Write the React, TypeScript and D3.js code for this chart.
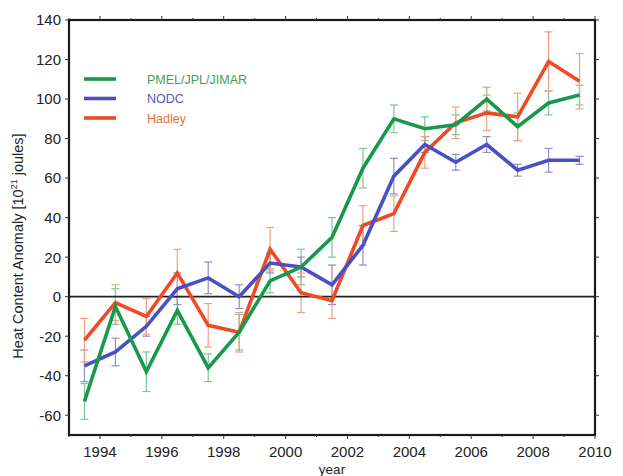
import React from "react";
import * as d3 from "d3";

// Mid-year sample times
const years = [1993.5, 1994.5, 1995.5, 1996.5, 1997.5, 1998.5, 1999.5, 2000.5, 2001.5, 2002.5, 2003.5, 2004.5, 2005.5, 2006.5, 2007.5, 2008.5, 2009.5];

const pmelValues = [-53, -5, -38, -7, -36, -18, 8, 15, 30, 65, 90, 85, 87, 100, 86, 98, 102];
const pmelErrors = [9, 9, 10, 7, 7, 9, 6, 9, 10, 10, 7, 6, 5, 6, 7, 6, 5];

const nodcValues = [-35, -28, -15, 4, 9.5, 0, 17, 15, 6, 26, 61, 77, 68, 77, 64, 69, 69];
const nodcErrors = [8, 7, 5, 8, 8, 6, 5, 5, 10, 10, 9, 4, 4, 4, 3, 6, 2];

const hadleyValues = [-22, -3, -10, 12, -14.5, -18, 24, 2, -2, 36, 42, 73, 88, 93, 91, 119, 109];
const hadleyErrors = [11, 9, 9, 12, 11, 10, 11, 10, 9, 10, 9, 8, 8, 9, 12, 15, 14];

const seriesNames = ["PMEL/JPL/JIMAR", "NODC", "Hadley"];
const yTicks = [-60, -40, -20, 0, 20, 40, 60, 80, 100, 120, 140];
const xTicks = [1994, 1996, 1998, 2000, 2002, 2004, 2006, 2008, 2010];

const W = 623;
const H = 476;
const M = { left: 69, right: 595, top: 20, bottom: 435 };

export default function App() {
  const x = d3.scaleLinear().domain([1993, 2010]).range([M.left, M.right]);
  const y = d3.scaleLinear().domain([-70, 140]).range([M.bottom, M.top]);
  const line = d3
    .line<[number, number]>()
    .x((d) => x(d[0]))
    .y((d) => y(d[1]));

  const series = [
    { name: seriesNames[0], values: pmelValues, errors: pmelErrors, color: "#17984a", errColor: "#7cc79a", text: "#3aa25a" },
    { name: seriesNames[1], values: nodcValues, errors: nodcErrors, color: "#4a4fc4", errColor: "#8e8fc4", text: "#5656c0" },
    { name: seriesNames[2], values: hadleyValues, errors: hadleyErrors, color: "#ef4a23", errColor: "#f0a080", text: "#e8703a" },
  ];

  const font = "'Liberation Sans', Arial, sans-serif";
  const minorYears = d3.range(1993, 2011);
  const minorY = d3.range(-60, 141, 20);

  return (
    <svg width={W} height={H} style={{ position: "absolute", left: 0, top: 0, background: "#fff" }} fontFamily={font}>
      <rect x={0} y={0} width={W} height={H} fill="#fff" />

      {/* error bars */}
      {series.map((s) => (
        <g key={s.name + "-err"} stroke={s.errColor} strokeWidth={1.2}>
          {years.map((yr, i) => {
            const cx = x(yr);
            const y0 = y(s.values[i] - s.errors[i]);
            const y1 = y(s.values[i] + s.errors[i]);
            return (
              <g key={i}>
                <line x1={cx} x2={cx} y1={y0} y2={y1} />
                <line x1={cx - 4} x2={cx + 4} y1={y0} y2={y0} />
                <line x1={cx - 4} x2={cx + 4} y1={y1} y2={y1} />
              </g>
            );
          })}
        </g>
      ))}

      {/* zero line */}
      <line x1={M.left} x2={M.right} y1={y(0)} y2={y(0)} stroke="#222" strokeWidth={1.6} />

      {/* series lines, drawn back to front */}
      {[series[2], series[1], series[0]].map((s) => (
        <path
          key={s.name}
          d={line(years.map((yr, i) => [yr, s.values[i]] as [number, number])) || ""}
          fill="none"
          stroke={s.color}
          strokeWidth={3.6}
          strokeLinejoin="miter"
        />
      ))}

      {/* frame */}
      <rect x={M.left} y={M.top} width={M.right - M.left} height={M.bottom - M.top} fill="none" stroke="#1a1a1a" strokeWidth={2.2} />

      {/* x ticks: bottom and top */}
      {minorYears.map((yr) => (
        <g key={"xt" + yr} stroke="#333" strokeWidth={1}>
          <line x1={x(yr)} x2={x(yr)} y1={M.bottom} y2={M.bottom + (yr % 2 === 0 ? 4 : 2)} />
          <line x1={x(yr)} x2={x(yr)} y1={M.top} y2={M.top - (yr % 2 === 0 ? 4 : 2)} />
        </g>
      ))}
      {/* y ticks: left and right */}
      {minorY.map((v) => (
        <g key={"yt" + v} stroke="#333" strokeWidth={1}>
          <line x1={M.left} x2={M.left - 4} y1={y(v)} y2={y(v)} />
          <line x1={M.right} x2={M.right + 4} y1={y(v)} y2={y(v)} />
        </g>
      ))}

      {/* tick labels */}
      {yTicks.map((v) => (
        <text key={"yl" + v} x={M.left - 8} y={y(v)} dy="0.36em" textAnchor="end" fontSize={15} fill="#222">
          {v}
        </text>
      ))}
      {xTicks.map((v) => (
        <text key={"xl" + v} x={x(v)} y={M.bottom + 22} textAnchor="middle" fontSize={15} fill="#222">
          {v}
        </text>
      ))}

      {/* axis titles */}
      <text x={332} y={474} textAnchor="middle" fontSize={13.5} fill="#222">year</text>
      <text transform={`translate(23, ${246}) rotate(-90)`} textAnchor="middle" fontSize={14.5} fill="#222">
        Heat Content Anomaly [10<tspan dy={-6} fontSize={9}>21</tspan>
        <tspan dy={6}> joules]</tspan>
      </text>

      {/* legend */}
      {series.map((s, i) => (
        <g key={"lg" + s.name}>
          <line x1={84} x2={116} y1={79 + i * 19.5} y2={79 + i * 19.5} stroke={s.color} strokeWidth={3.6} />
          <text x={147} y={79 + i * 19.5} dy="0.36em" fontSize={12.5} fill={s.text}>
            {s.name}
          </text>
        </g>
      ))}
    </svg>
  );
}
